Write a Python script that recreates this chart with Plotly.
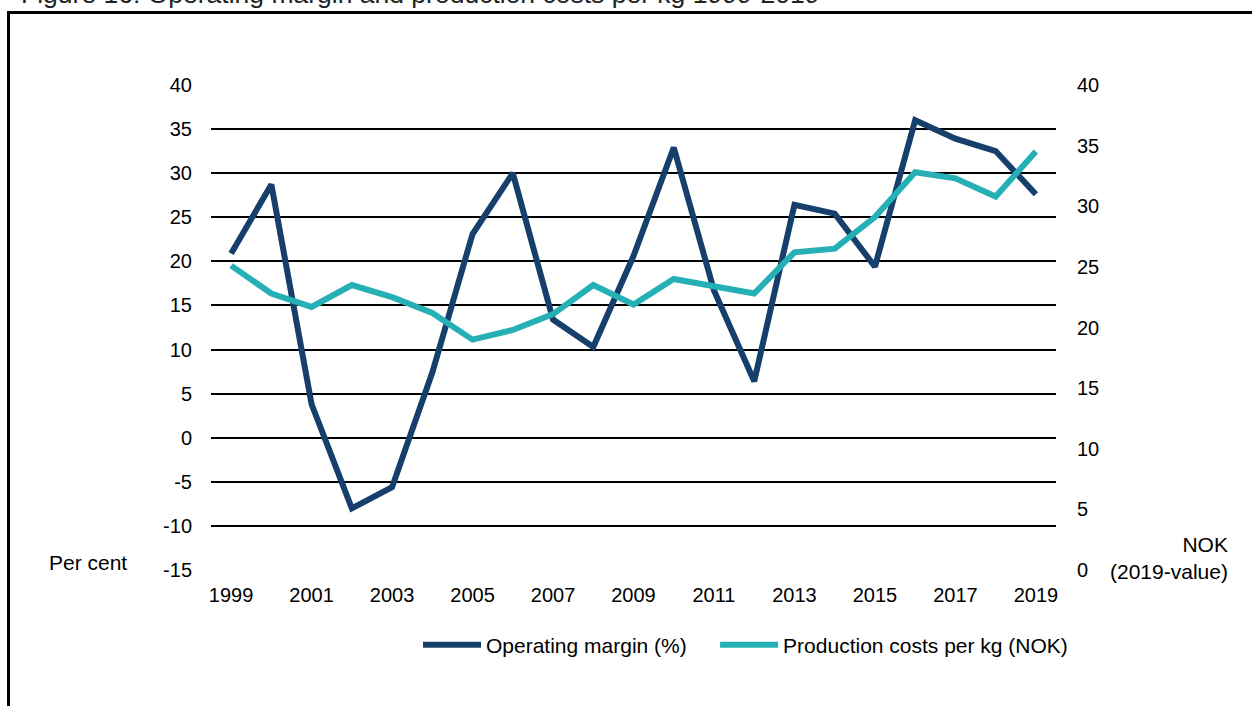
import plotly.graph_objects as go

# data
years = list(range(1999, 2020))
operating_margin = [20.9, 28.7, 3.8, -8.0, -5.6, 7.4, 23.1, 30.0, 13.4, 10.3, 20.6,
                    32.9, 16.7, 6.4, 26.4, 25.4, 19.4, 36.0, 33.9, 32.5, 27.6]
production_costs = [25.1, 22.8, 21.7, 23.5, 22.5, 21.2, 19.0, 19.8, 21.1, 23.5, 21.9,
                    24.0, 23.4, 22.8, 26.2, 26.5, 29.1, 32.8, 32.3, 30.8, 34.5]
x_ticks = list(range(1999, 2020, 2))
left_ticks = list(range(-15, 41, 5))
left_labels = [str(v) for v in left_ticks]  # plain hyphen minus, as in the original
right_ticks = list(range(0, 41, 5))

NAVY = '#173F6B'
TEAL = '#25B0B5'
FONT = 'Liberation Sans, Arial, sans-serif'

W, H = 1252, 706
L, R, T, B = 211, 1056, 84, 571  # plot area in pixels
PAD = 0.1  # tiny overshoot so the outer grid lines get drawn


def px(x):
    return (x - L) / (R - L)


def py(y):
    return (B - y) / (B - T)


y_lo, y_hi = -15 - PAD, 40 + PAD
# right axis shares the pixel grid: 0 -> -15, 40 -> 40
y2_lo, y2_hi = (y_lo + 15) * 40 / 55, (y_hi + 15) * 40 / 55

GAP = '\u00a0' * 4  # extra room between the two legend entries

fig = go.Figure()
fig.add_trace(go.Scatter(x=years, y=operating_margin, name='Operating margin (%)' + GAP,
                         mode='lines', line=dict(color=NAVY, width=6), yaxis='y'))
fig.add_trace(go.Scatter(x=years, y=production_costs, name='Production costs per kg (NOK)',
                         mode='lines', line=dict(color=TEAL, width=6), yaxis='y2'))

fig.update_layout(
    width=W, height=H,
    margin=dict(l=L, r=W - R, t=T, b=H - B, pad=0),
    paper_bgcolor='white', plot_bgcolor='white',
    font=dict(family=FONT, size=20, color='#000000'),
    xaxis=dict(range=[1998.5, 2019.5], tickvals=x_ticks, showgrid=False, zeroline=False,
               showline=False, ticks='', ticklabelstandoff=10, tickfont=dict(size=20)),
    yaxis=dict(range=[y_lo, y_hi], tickvals=left_ticks, ticktext=left_labels,
               showgrid=True, gridcolor='black', gridwidth=2,
               zeroline=False, showline=False, ticks='', ticklabelstandoff=18,
               tickfont=dict(size=20)),
    yaxis2=dict(range=[y2_lo, y2_hi], tickvals=right_ticks, overlaying='y', side='right',
                showgrid=False, zeroline=False, showline=False, ticks='',
                ticklabelstandoff=20, tickfont=dict(size=20)),
    legend=dict(orientation='h', x=px(418), xanchor='left', y=py(645), yanchor='middle',
                font=dict(size=21), itemwidth=58, bgcolor='rgba(0,0,0,0)'),
    showlegend=True,
)

# frame around the figure (left and top edges visible)
fig.add_shape(type='line', xref='paper', yref='paper',
              x0=px(8.5), x1=px(8.5), y0=py(12.5), y1=py(720),
              line=dict(color='black', width=3))
fig.add_shape(type='line', xref='paper', yref='paper',
              x0=px(7), x1=px(1270), y0=py(12.5), y1=py(12.5),
              line=dict(color='black', width=3))

# figure title, partly cut off at the top
fig.add_annotation(text='Figure 16: Operating margin and production costs per kg 1999-2019',
                   xref='paper', yref='paper', x=px(19), y=py(-6), xanchor='left',
                   yanchor='middle', showarrow=False, font=dict(size=26.5, color='#222222'))

fig.add_annotation(text='Per cent', xref='paper', yref='paper', x=px(129), y=py(562),
                   xanchor='right', yanchor='middle', showarrow=False, font=dict(size=21))
fig.add_annotation(text='NOK<br>(2019-value)', xref='paper', yref='paper', x=px(1230),
                   y=py(558), xanchor='right', yanchor='middle', align='right',
                   showarrow=False, font=dict(size=21))

# the original page has no body margin
fig.write_html('out.html', config={'displayModeBar': False},
               post_script="document.body.style.margin='0';")
